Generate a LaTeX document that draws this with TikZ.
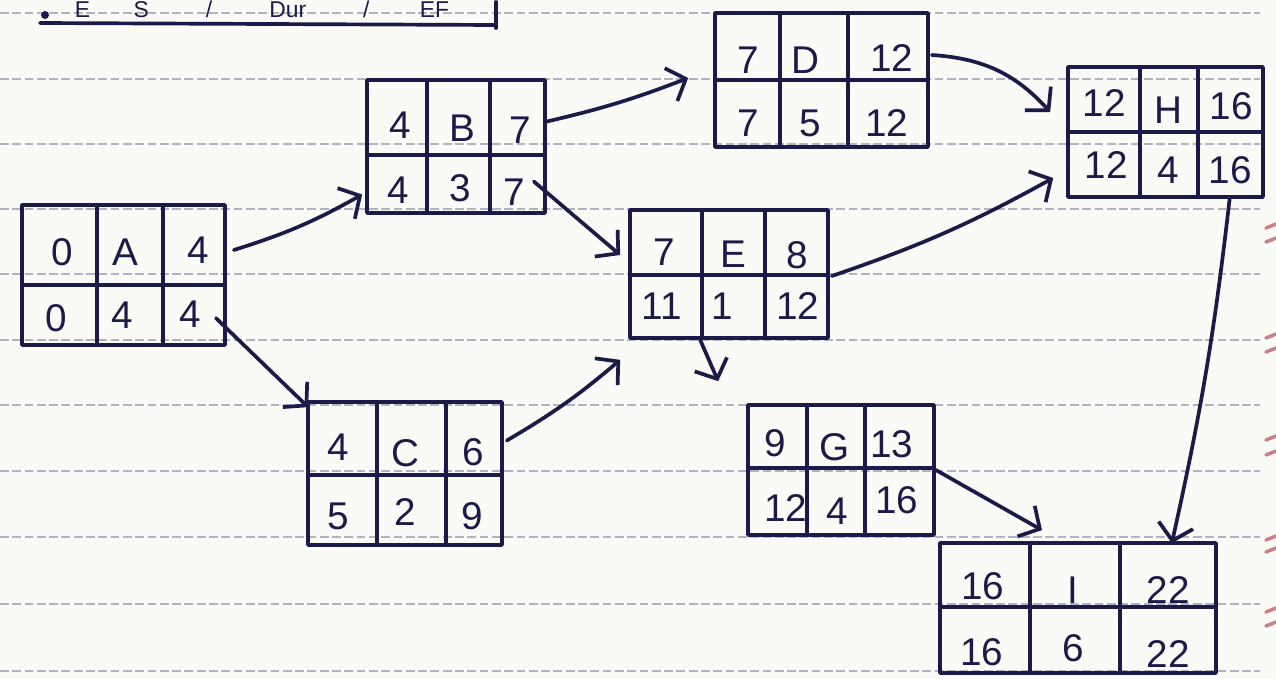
\documentclass[tikz,border=0pt]{standalone}
\usepackage{fontspec}
\setmainfont{Liberation Sans}
\usetikzlibrary{arrows.meta,calc,fit}
\definecolor{ink}{RGB}{28,26,72}
\definecolor{paper}{RGB}{250,250,247}
\definecolor{rulecol}{RGB}{178,178,192}
\definecolor{margincol}{RGB}{205,125,135}
\begin{document}
\begin{tikzpicture}[x=0.02cm,y=-0.02cm,
  inkline/.style={draw=ink, line width=2.1pt, line cap=round, line join=round},
  actbox/.style={inkline, inner sep=0pt},
  cell/.style={text=ink, font=\fontsize{22}{24}\selectfont, inner sep=0pt, anchor=center},
  legendtext/.style={text=ink, font=\fontsize{13}{14}\selectfont, inner sep=0pt},
  conn/.style={inkline, -{Straight Barb[length=9pt,width=20pt]}},
  paperline/.style={draw=rulecol, line width=0.7pt, dash pattern=on 5pt off 2pt},
  marginmark/.style={draw=margincol, line width=2pt, line cap=round}]
\useasboundingbox (0,0) rectangle (1276,679);
\fill[paper] (0,0) rectangle (1276,679);
% ruled paper
\foreach \yy in {13,79,144,209,274,340,405,471,537,604,671}
  \draw[paperline] (0,\yy) -- (1260,\yy);
\foreach \yy in {228,242,338,352,440,455,540,552,612,626}
  \draw[marginmark] (1266,\yy) -- (1276,\yy-4);
% legend
\node[legendtext, anchor=base] (legend) at (262,18) {E\hspace{1.9em}S\hspace{2.5em}/\hspace{2.5em}Dur\hspace{2.5em}/\hspace{2.2em}EF};
\draw[inkline] (40,23) -- (495,25);
\draw[inkline] (496,2) -- (496,28);
\fill[ink] (45,15) circle (4);
% ---------- boxes ----------
% A
\node[actbox, fit={(22,205) (225,345)}] (A) {};
\draw[inkline] (22,285) -- (225,285) (97,205) -- (97,345) (163,205) -- (163,345);
\node[cell] (a1) at (62,252) {0};
\node[cell] (a2) at (125,252) {A};
\node[cell] (a3) at (198,250) {4};
\node[cell] (a4) at (56,318) {0};
\node[cell] (a5) at (122,315) {4};
\node[cell] (a6) at (190,314) {4};
% B
\node[actbox, fit={(367,80) (545,213)}] (B) {};
\draw[inkline] (367,155) -- (545,155) (427,80) -- (427,213) (490,80) -- (490,213);
\node[cell] (b1) at (400,125) {4};
\node[cell] (b2) at (462,128) {B};
\node[cell] (b3) at (520,130) {7};
\node[cell] (b4) at (398,190) {4};
\node[cell] (b5) at (460,188) {3};
\node[cell] (b6) at (514,192) {7};
% D
\node[actbox, fit={(715,13) (928,147)}] (D) {};
\draw[inkline] (715,80) -- (928,80) (780,13) -- (780,147) (848,13) -- (848,147);
\node[cell] (d1) at (748,60) {7};
\node[cell] (d2) at (805,60) {D};
\node[cell] (d3) at (892,58) {12};
\node[cell] (d4) at (748,123) {7};
\node[cell] (d5) at (810,123) {5};
\node[cell] (d6) at (887,123) {12};
% H
\node[actbox, fit={(1068,67) (1263,197)}] (H) {};
\draw[inkline] (1068,132) -- (1263,132) (1140,67) -- (1140,197) (1198,67) -- (1198,197);
\node[cell] (h1) at (1104,103) {12};
\node[cell] (h2) at (1168,110) {H};
\node[cell] (h3) at (1231,106) {16};
\node[cell] (h4) at (1106,165) {12};
\node[cell] (h5) at (1168,170) {4};
\node[cell] (h6) at (1230,170) {16};
% E
\node[actbox, fit={(630,210) (828,338)}] (E) {};
\draw[inkline] (630,275) -- (828,275) (702,210) -- (702,338) (765,210) -- (765,338);
\node[cell] (e1) at (664,252) {7};
\node[cell] (e2) at (733,254) {E};
\node[cell] (e3) at (797,255) {8};
\node[cell] (e4) at (662,306) {11};
\node[cell] (e5) at (722,306) {1};
\node[cell] (e6) at (798,306) {12};
% C
\node[actbox, fit={(308,402) (502,545)}] (C) {};
\draw[inkline] (308,475) -- (502,475) (377,402) -- (377,545) (446,402) -- (446,545);
\node[cell] (c1) at (338,447) {4};
\node[cell] (c2) at (405,453) {C};
\node[cell] (c3) at (473,452) {6};
\node[cell] (c4) at (338,516) {5};
\node[cell] (c5) at (405,512) {2};
\node[cell] (c6) at (472,516) {9};
% G
\node[actbox, fit={(748,405) (934,535)}] (G) {};
\draw[inkline] (748,468) -- (934,468) (807,405) -- (807,535) (865,405) -- (865,535);
\node[cell] (g1) at (775,443) {9};
\node[cell] (g2) at (835,447) {G};
\node[cell] (g3) at (892,444) {13};
\node[cell] (g4) at (786,508) {12};
\node[cell] (g5) at (837,511) {4};
\node[cell] (g6) at (897,500) {16};
% I
\node[actbox, fit={(940,543) (1216,673)}] (I) {};
\draw[inkline] (940,607) -- (1216,607) (1030,543) -- (1030,673) (1120,543) -- (1120,673);
\node[cell] (i1) at (983,586) {16};
\node[cell] (i2) at (1073,590) {I};
\node[cell] (i3) at (1168,590) {22};
\node[cell] (i4) at (982,652) {16};
\node[cell] (i5) at (1073,648) {6};
\node[cell] (i6) at (1168,654) {22};
% ---------- connectors ----------
\draw[conn] ($(A.east)+(7,-25)$) to[bend right=6] ($(B.west)+(-3,48)$);
\draw[conn] ($(A.east)+(-11,43)$) -- ($(C.north west)+(2,7)$);
\draw[conn] ($(B.east)+(0,-25)$) to[bend right=4] ($(D.west)+(-25,-2)$);
\draw[conn] ($(B.east)+(-13,35)$) -- ($(E.west)+(-8,-19)$);
\draw[conn] ($(C.east)+(3,-33)$) to[bend right=5] ($(E.south west)+(-8,20)$);
\draw[conn] ($(D.east)+(2,-25)$) to[bend left=22] ($(H.west)+(-16,-20)$);
\draw[conn] ($(E.east)+(2,2)$) to[bend right=5] ($(H.west)+(-13,46)$);
\draw[conn] ($(E.south west)+(72,0)$) -- ($(G.north west)+(-28,-22)$);
\draw[conn] (G.east) -- ($(I.north)+(-36,-11)$);
\draw[conn] ($(H.south east)+(-35,-2)$) to[bend left=3] ($(I.north east)+(-46,2)$);
\end{tikzpicture}
\end{document}
